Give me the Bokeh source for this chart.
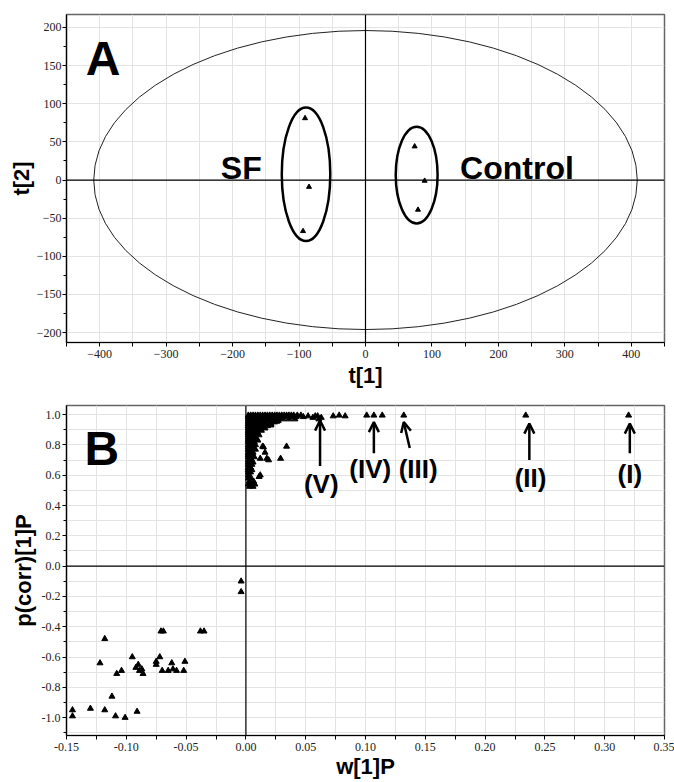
from bokeh.plotting import figure
from bokeh.layouts import column
from bokeh.models import Span, Label, Arrow, OpenHead, FixedTicker, PrintfTickFormatter
from bokeh.embed import file_html
from bokeh.resources import INLINE

# ---------------- Panel A data (scores) ----------------
sf_t1 = [-91, -85, -94]
sf_t2 = [81, -9, -67]
ctrl_t1 = [74, 89, 79]
ctrl_t2 = [44, -1, -39]

# ellipses: centre x, centre y, full width, full height
ell_x = [0, -89.5, 77]
ell_y = [0, 7.5, 6.5]
ell_w = [818, 73, 63]
ell_h = [392, 175, 127]

a_xticks = [-400, -300, -200, -100, 0, 100, 200, 300, 400]
a_xminor = [-450, -350, -250, -150, -50, 50, 150, 250, 350, 450]
a_yticks = [-200, -150, -100, -50, 0, 50, 100, 150, 200]
a_yminor = [-225, -175, -125, -75, -25, 25, 75, 125, 175, 225]

# ---------------- Panel B data (S-plot) ----------------
cluster_rows = [
    (0.995, [0.002, 0.004, 0.006, 0.008, 0.010, 0.012, 0.014, 0.016, 0.018, 0.020, 0.022,
             0.024, 0.026, 0.028, 0.030, 0.032, 0.034, 0.036, 0.038, 0.040, 0.043, 0.046]),
    (0.985, [0.002, 0.004, 0.006, 0.008, 0.010, 0.012, 0.014, 0.016, 0.018, 0.021, 0.024,
             0.027, 0.030, 0.034, 0.038, 0.042, 0.048]),
    (0.97, [0.002, 0.004, 0.006, 0.008, 0.010, 0.012, 0.014, 0.017, 0.020, 0.023, 0.027,
            0.031, 0.036, 0.041]),
    (0.955, [0.002, 0.004, 0.006, 0.008, 0.010, 0.012, 0.015, 0.018, 0.022, 0.026]),
    (0.94, [0.002, 0.004, 0.006, 0.008, 0.010, 0.013, 0.016, 0.021]),
    (0.925, [0.002, 0.004, 0.006, 0.008, 0.011, 0.014, 0.018]),
    (0.91, [0.002, 0.004, 0.006, 0.009, 0.012, 0.016]),
    (0.895, [0.002, 0.004, 0.006, 0.009, 0.013]),
    (0.88, [0.002, 0.004, 0.007, 0.010]),
    (0.865, [0.002, 0.004, 0.007, 0.011]),
    (0.85, [0.002, 0.005, 0.008]),
    (0.835, [0.002, 0.005, 0.009]),
    (0.82, [0.002, 0.004, 0.007]),
    (0.80, [0.002, 0.005, 0.008]),
    (0.785, [0.002, 0.004, 0.006]),
    (0.77, [0.002, 0.005, 0.008]),
    (0.75, [0.002, 0.004, 0.006]),
    (0.735, [0.002, 0.005]),
    (0.72, [0.002, 0.004, 0.007]),
    (0.70, [0.002, 0.005]),
    (0.685, [0.002, 0.004, 0.006]),
    (0.67, [0.002, 0.005]),
    (0.65, [0.002, 0.004]),
    (0.635, [0.002, 0.005]),
    (0.62, [0.002, 0.004]),
    (0.60, [0.002, 0.003]),
    (0.58, [0.002, 0.004]),
    (0.56, [0.003]),
    (0.54, [0.002, 0.005]),
    (0.525, [0.003, 0.006]),
]

extra_w = [0.034, 0.029, 0.0147, 0.016, 0.0175, 0.012, 0.012, 0.0064, 0.0075, 0.011, 0.019,
           0.014, 0.010, 0.027, 0.021, 0.024, 0.052, 0.056, 0.058, 0.060, 0.063, 0.061,
           0.073, 0.078, 0.083, 0.101, 0.107, 0.114, 0.132, 0.234, 0.320]
extra_p = [0.79, 0.71, 0.786, 0.75, 0.71, 0.71, 0.60, 0.56, 0.54, 0.59, 0.70,
           0.79, 0.83, 0.96, 0.93, 0.95, 0.99, 0.98, 0.99, 0.99, 0.98, 0.97,
           0.99, 0.995, 0.99, 0.995, 0.995, 0.995, 0.995, 0.995, 0.995]

neg_w = [-0.004, -0.004, -0.071, -0.069, -0.038, -0.035, -0.118, -0.095, -0.122, -0.104,
         -0.108, -0.092, -0.090, -0.089, -0.087, -0.086, -0.075, -0.075, -0.072, -0.070,
         -0.065, -0.062, -0.061, -0.058, -0.051, -0.052, -0.112, -0.130, -0.145, -0.145,
         -0.118, -0.109, -0.101, -0.091]
neg_p = [-0.10, -0.17, -0.43, -0.43, -0.43, -0.43, -0.48, -0.60, -0.64, -0.69,
         -0.71, -0.67, -0.65, -0.69, -0.68, -0.71, -0.63, -0.65, -0.60, -0.69,
         -0.69, -0.64, -0.68, -0.69, -0.63, -0.69, -0.86, -0.94, -0.95, -0.99,
         -0.95, -0.99, -1.00, -0.96]

b_xticks = [-0.15, -0.10, -0.05, 0.0, 0.05, 0.10, 0.15, 0.20, 0.25, 0.30, 0.35]
b_xminor = [-0.125, -0.075, -0.025, 0.025, 0.075, 0.125, 0.175, 0.225, 0.275, 0.325]
b_yticks = [-1.0, -0.8, -0.6, -0.4, -0.2, 0.0, 0.2, 0.4, 0.6, 0.8, 1.0]
b_yminor = [-1.1, -0.9, -0.7, -0.5, -0.3, -0.1, 0.1, 0.3, 0.5, 0.7, 0.9]

# annotations for the S-plot: label, text x, text y, arrow x0, y0, x1, y1
roman = ["(V)", "(IV)", "(III)", "(II)", "(I)"]
roman_x = [0.063, 0.104, 0.144, 0.238, 0.321]
roman_y = [0.54, 0.64, 0.64, 0.58, 0.61]
arr_x0 = [0.062, 0.107, 0.137, 0.237, 0.321]
arr_y0 = [0.66, 0.745, 0.78, 0.70, 0.745]
arr_x1 = [0.062, 0.107, 0.132, 0.237, 0.321]
arr_y1 = [0.96, 0.95, 0.95, 0.94, 0.94]

pos_w, pos_p = [], []
for yv, xs in cluster_rows:
    for xv in xs:
        pos_w.append(xv)
        pos_p.append(yv)
pos_w += extra_w
pos_p += extra_p

TICK_FONT = "Liberation Sans Narrow"
BOLD_FONT = "Liberation Sans"
GRID = "#e3e3e3"


def style(p, xlab, ylab):
    p.background_fill_color = "white"
    p.border_fill_color = "white"
    p.outline_line_color = "#666666"
    p.outline_line_width = 1.5
    for ax in (p.xaxis[0], p.yaxis[0]):
        ax.axis_line_color = "black"
        ax.axis_line_width = 1.2
        ax.major_tick_out = 4
        ax.major_tick_in = 0
        ax.minor_tick_out = 3
        ax.minor_tick_in = 0
        ax.major_tick_line_color = "black"
        ax.minor_tick_line_color = "black"
        ax.major_label_text_font = TICK_FONT
        ax.major_label_text_font_size = "12px"
        ax.major_label_text_color = "#222222"
        ax.axis_label_text_font = BOLD_FONT
        ax.axis_label_text_font_style = "bold"
        ax.axis_label_text_font_size = "22px"
        ax.axis_label_text_color = "black"
    p.xaxis.axis_label = xlab
    p.yaxis.axis_label = ylab
    p.xgrid.grid_line_color = GRID
    p.ygrid.grid_line_color = GRID
    p.xgrid.minor_grid_line_color = GRID
    p.add_layout(Span(location=0, dimension="height", line_color="black", line_width=1.2))
    p.add_layout(Span(location=0, dimension="width", line_color="black", line_width=1.2))


def big_label(p, x, y, text, size, align="center", baseline="alphabetic"):
    p.add_layout(Label(x=x, y=y, text=text, text_font=BOLD_FONT, text_font_style="bold",
                       text_font_size=size, text_align=align, text_baseline=baseline,
                       text_color="black"))


# ---------------- Panel A ----------------
pA = figure(width=674, height=390, x_range=(-450, 450), y_range=(-213, 217),
            output_backend="svg", toolbar_location=None,
            min_border_left=66, min_border_right=10, min_border_top=14, min_border_bottom=48)
pA.xaxis.ticker = FixedTicker(ticks=a_xticks, minor_ticks=a_xminor)
pA.yaxis.ticker = FixedTicker(ticks=a_yticks, minor_ticks=a_yminor)
style(pA, "t[1]", "t[2]")
pA.xaxis.minor_tick_out = 4
pA.xaxis.major_label_standoff = 3
pA.yaxis.major_label_standoff = 1
pA.xaxis.axis_label_standoff = 2
pA.yaxis.axis_label_standoff = 0

pA.ellipse(x=ell_x[:1], y=ell_y[:1], width=ell_w[:1], height=ell_h[:1],
           fill_color=None, line_color="#222222", line_width=1)
pA.ellipse(x=ell_x[1:], y=ell_y[1:], width=ell_w[1:], height=ell_h[1:],
           fill_color=None, line_color="black", line_width=2.5)
pA.scatter(sf_t1, sf_t2, marker="triangle", size=5, color="black")
pA.scatter(ctrl_t1, ctrl_t2, marker="triangle", size=5, color="black")

big_label(pA, -421, 159, "A", "48px", align="left")
big_label(pA, -187, 16, "SF", "32px")
big_label(pA, 228, 16, "Control", "32px")

# ---------------- Panel B ----------------
pB = figure(width=674, height=391, x_range=(-0.15, 0.35), y_range=(-1.118, 1.06),
            output_backend="svg", toolbar_location=None,
            min_border_left=64, min_border_right=10, min_border_top=15, min_border_bottom=43)
pB.xaxis.ticker = FixedTicker(ticks=b_xticks, minor_ticks=b_xminor)
pB.yaxis.ticker = FixedTicker(ticks=b_yticks, minor_ticks=b_yminor)
pB.xaxis.formatter = PrintfTickFormatter(format="%.2f")
pB.yaxis.formatter = PrintfTickFormatter(format="%.1f")
style(pB, "w[1]P", "p(corr)[1]P")
pB.ygrid.minor_grid_line_color = GRID
pB.xaxis.minor_tick_out = 4
pB.xaxis.major_label_standoff = 3
pB.yaxis.major_label_standoff = 2
pB.xaxis.axis_label_standoff = 0
pB.yaxis.axis_label_standoff = 3

pB.scatter(pos_w, pos_p, marker="triangle", size=6, color="black")
pB.scatter(neg_w, neg_p, marker="triangle", size=6, color="black")

big_label(pB, -0.135, 0.778, "B", "48px", align="left")
for i in range(len(roman)):
    pB.add_layout(Arrow(end=OpenHead(size=10, line_width=2.5, line_color="black"),
                        x_start=arr_x0[i], y_start=arr_y0[i], x_end=arr_x1[i], y_end=arr_y1[i],
                        line_width=2.5, line_color="black"))
    big_label(pB, roman_x[i], roman_y[i], roman[i], "26px", baseline="middle")

layout = column(pA, pB)
open("out.html", "w").write(file_html(layout, INLINE, title="PCA and S-plot"))
